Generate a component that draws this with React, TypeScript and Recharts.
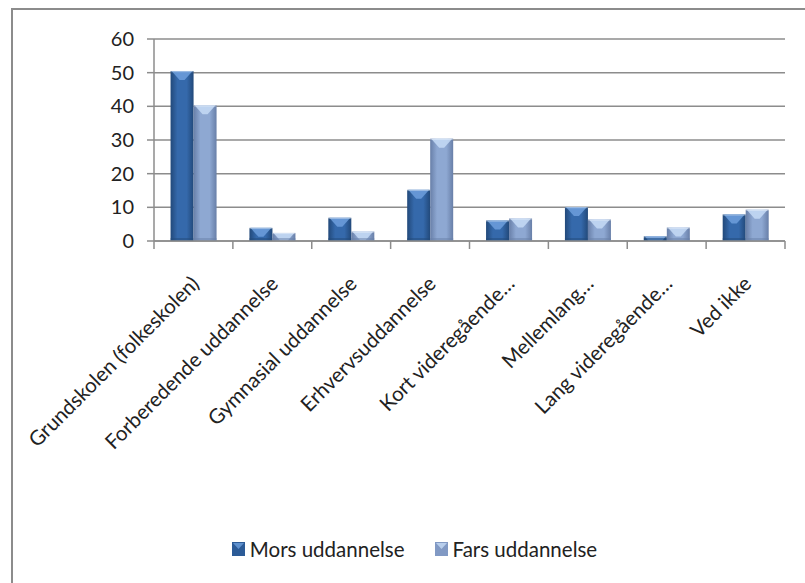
import { BarChart, Bar, XAxis, YAxis, CartesianGrid, Legend } from 'recharts';

const categories = [
  'Grundskolen (folkeskolen)',
  'Forberedende uddannelse',
  'Gymnasial uddannelse',
  'Erhvervsuddannelse',
  'Kort videregående…',
  'Mellemlang…',
  'Lang videregående…',
  'Ved ikke',
];
const mors = [50.5, 3.9, 6.9, 15.2, 6.1, 10.1, 1.4, 7.9];
const fars = [40.3, 2.4, 2.8, 30.4, 6.7, 6.4, 4.0, 9.3];
const yTicks = [0, 10, 20, 30, 40, 50, 60];

const data = categories.map((name, i) => ({ name, mors: mors[i], fars: fars[i] }));

const FONT = 'Lato, "Liberation Sans", sans-serif';
const GRID = '#8c8c8c';
const TEXT = '#222222';
const W = 805;
const H = 583;
const PLOT_LEFT = 154;
const PLOT_RIGHT = 20;
const BAND = (W - PLOT_LEFT - PLOT_RIGHT) / categories.length;

const palette = {
  mors: { edge: '#22497a', mid: '#3569ab', bevel: '#6d9fdc', legend: '#2c5b97' },
  fars: { edge: '#687fa8', mid: '#8ea8d2', bevel: '#c6dbf6', legend: '#8199c4' },
};

function bevelBar(key: 'mors' | 'fars') {
  return (props: any) => {
    const { x, y, width, height } = props;
    if (!height || height <= 0) return null;
    const b = Math.min(9, height);
    const inset = Math.min(width / 2, b);
    return (
      <g>
        <rect x={x} y={y} width={width} height={height} fill={`url(#body-${key})`} />
        <polygon
          points={`${x + 1},${y} ${x + width - 1},${y} ${x + width - inset},${y + b} ${x + inset},${y + b}`}
          fill={palette[key].bevel}
          opacity={0.85}
        />
        <rect x={x} y={y} width={width} height={1.2} fill="#ffffff" opacity={0.35} />
        <rect x={x} y={y + height - Math.min(3, height)} width={width} height={Math.min(3, height)} fill={palette[key].edge} opacity={0.5} />
      </g>
    );
  };
}

function CategoryTick(props: any) {
  const { x, y, payload, index } = props;
  const left = x - BAND / 2;
  const right = x + BAND / 2;
  const ax = x + 7;
  const ay = y + 44;
  return (
    <g>
      <line x1={left} y1={y} x2={left} y2={y + 8} stroke={GRID} strokeWidth={1.5} />
      {index === categories.length - 1 && (
        <line x1={right} y1={y} x2={right} y2={y + 8} stroke={GRID} strokeWidth={1.5} />
      )}
      <text
        x={ax}
        y={ay}
        transform={`rotate(-45 ${ax} ${ay})`}
        textAnchor="end"
        fontFamily={FONT}
        fontSize={20.5}
        fill={TEXT}
      >
        {payload.value}
      </text>
    </g>
  );
}

function LegendContent() {
  const items = [
    { key: 'mors' as const, label: 'Mors uddannelse' },
    { key: 'fars' as const, label: 'Fars uddannelse' },
  ];
  return (
    <div style={{ display: 'flex', justifyContent: 'center', gap: 30, fontFamily: FONT, fontSize: 20.5, color: TEXT, paddingLeft: 44 }}>
      {items.map((it) => (
        <div key={it.key} style={{ display: 'flex', alignItems: 'center', gap: 5 }}>
          <svg width={13} height={14}>
            <rect x={0} y={0} width={13} height={14} fill={palette[it.key].legend} />
            <polygon points="1,1 12,1 6.5,7" fill={palette[it.key].bevel} opacity={0.8} />
          </svg>
          <span>{it.label}</span>
        </div>
      ))}
    </div>
  );
}

export default function App() {
  return (
    <div style={{ position: 'absolute', left: 0, top: 0, width: W, height: H, background: '#fff' }}>
      <div
        style={{
          position: 'absolute',
          left: 11,
          top: 8,
          width: W,
          height: H,
          borderTop: `2px solid ${GRID}`,
          borderLeft: `2px solid ${GRID}`,
        }}
      />
      <BarChart
        width={W}
        height={H}
        data={data}
        margin={{ top: 39, right: PLOT_RIGHT, bottom: 22, left: 0 }}
        barGap={0}
        barCategoryGap="21%"
        style={{ position: 'absolute', left: 0, top: 0 }}
      >
        <defs>
          {(['mors', 'fars'] as const).map((k) => (
            <linearGradient key={k} id={`body-${k}`} x1="0" y1="0" x2="1" y2="0">
              <stop offset="0%" stopColor={palette[k].edge} />
              <stop offset="30%" stopColor={palette[k].mid} />
              <stop offset="70%" stopColor={palette[k].mid} />
              <stop offset="100%" stopColor={palette[k].edge} />
            </linearGradient>
          ))}
        </defs>
        <CartesianGrid vertical={false} stroke={GRID} strokeWidth={1.5} />
        <XAxis
          dataKey="name"
          interval={0}
          height={296}
          tickLine={false}
          tickSize={0}
          tickMargin={0}
          axisLine={{ stroke: GRID, strokeWidth: 1.5 }}
          tick={<CategoryTick />}
        />
        <YAxis
          domain={[0, 60]}
          ticks={yTicks}
          width={PLOT_LEFT}
          tickSize={7}
          tickMargin={13}
          axisLine={{ stroke: GRID, strokeWidth: 1.5 }}
          tickLine={{ stroke: GRID, strokeWidth: 1.5 }}
          tick={{ fontFamily: FONT, fontSize: 20, fill: TEXT }}
        />
        <Bar dataKey="mors" name="Mors uddannelse" shape={bevelBar('mors')} isAnimationActive={false} />
        <Bar dataKey="fars" name="Fars uddannelse" shape={bevelBar('fars')} isAnimationActive={false} />
        <Legend verticalAlign="bottom" height={24} content={<LegendContent />} />
      </BarChart>
    </div>
  );
}
